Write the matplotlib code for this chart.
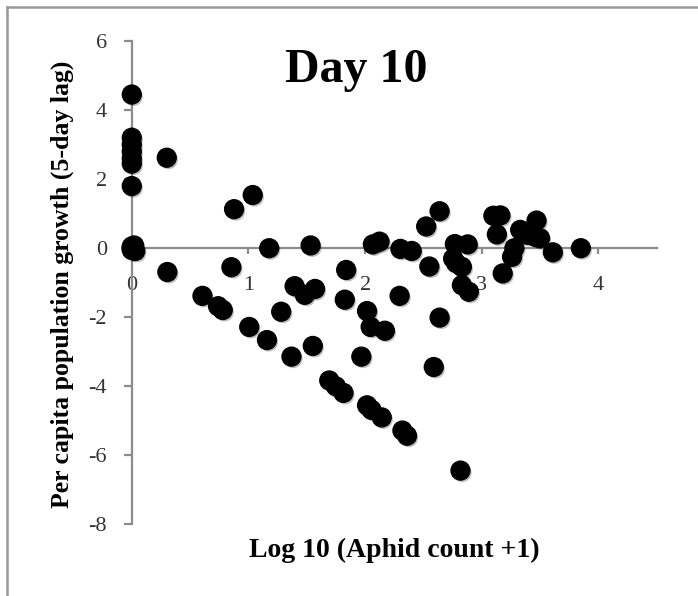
import matplotlib
matplotlib.use("Agg")
import matplotlib.pyplot as plt
import matplotlib.patheffects as pe
from matplotlib.lines import Line2D

# log10(aphid count + 1) vs per capita growth
log_count = [0, 0, 0, 0, 0, 0, 0, 0, 0, 0, 0, 0.03, 0.02, 0.30,
             0.305, 0.606, 0.74, 0.78, 0.854, 0.877, 1.037, 1.007, 1.159, 1.178,
             1.281, 1.369, 1.396, 1.483, 1.571, 1.533, 1.552, 1.693, 1.75, 1.815,
             1.838, 1.826, 1.968, 2.017, 2.017, 2.055, 2.048, 2.143, 2.17, 2.067,
             2.124, 2.296, 2.303, 2.40, 2.32, 2.36, 2.524, 2.639, 2.551, 2.639,
             2.589, 2.77, 2.88, 2.755, 2.78, 2.83, 2.83, 2.89, 2.818, 3.10,
             3.16, 3.13, 3.18, 3.26, 3.28, 3.33, 3.39, 3.47, 3.46, 3.50,
             3.61, 3.85]
growth = [4.45, 3.2, 3.0, 2.8, 2.6, 2.45, 1.8, 0.05, 0.0, -0.05, 0.0, -0.08, 0.08, 2.62,
          -0.69, -1.38, -1.68, -1.79, -0.55, 1.13, 1.54, -2.28, -2.66, 0.0,
          -1.84, -3.14, -1.10, -1.35, -1.18, 0.08, -2.83, -3.83, -4.0, -4.19,
          -0.63, -1.49, -3.14, -1.82, -4.55, -4.68, -2.28, -4.90, -2.39, 0.11,
          0.19, -1.38, -0.02, -0.08, -5.28, -5.43, 0.63, 1.07, -0.53, -2.01,
          -3.44, 0.12, 0.11, -0.30, -0.43, -0.54, -1.07, -1.26, -6.44, 0.94,
          0.95, 0.40, -0.73, -0.25, 0.0, 0.53, 0.39, 0.80, 0.33, 0.29,
          -0.12, 0.0]

xticks = [0, 1, 2, 3, 4]
yticks = [-8, -6, -4, -2, 0, 2, 4, 6]

serif = ["Liberation Serif", "DejaVu Serif"]
axis_grey = "#8c8c8c"

fig = plt.figure(figsize=(6.98, 5.96), dpi=100)
ax = fig.add_axes([0.1888, 0.12, 0.752, 0.8112])

ax.spines["top"].set_visible(False)
ax.spines["right"].set_visible(False)
ax.spines["bottom"].set_position(("data", 0))
for side in ["left", "bottom"]:
    ax.spines[side].set_color(axis_grey)
    ax.spines[side].set_linewidth(1.6)

ax.scatter(log_count, growth, s=185, color="black", zorder=3, clip_on=False,
           path_effects=[pe.SimplePatchShadow(offset=(1.2, -1.5), shadow_rgbFace="black", alpha=0.25),
                         pe.Normal()])

ax.set_xlim(0, 4.5)
ax.set_ylim(-8, 6)
ax.set_xticks(xticks)
ax.set_yticks(yticks)
ax.set_xticklabels([str(t) for t in xticks], fontfamily=serif, fontsize=16, color="#333333")
ax.set_yticklabels([str(t) for t in yticks], fontfamily=serif, fontsize=16, color="#333333")
ax.tick_params(axis="y", direction="out", length=6, width=1.6, color=axis_grey, pad=12)
ax.tick_params(axis="x", direction="out", length=4, width=1.6, color=axis_grey, pad=16)

fig.text(0.51, 0.863, "Day 10", ha="center", va="baseline",
         fontfamily=serif, fontweight="bold", fontsize=34.5)
fig.text(0.565, 0.066, "Log 10 (Aphid count +1)", ha="center", va="baseline",
         fontfamily=serif, fontweight="bold", fontsize=20)
fig.text(0.089, 0.5235, "Per capita population growth (5-day lag)", ha="center", va="center",
         rotation=90, fontfamily=serif, fontweight="bold", fontsize=18.5)

# chart frame, cut off at right and bottom like the reference
frame_grey = "#999999"
fig.add_artist(Line2D([0.0105, 0.0105], [0.0, 0.988], color=frame_grey, lw=1.8, transform=fig.transFigure))
fig.add_artist(Line2D([0.0105, 1.0], [0.988, 0.988], color=frame_grey, lw=1.8, transform=fig.transFigure))

fig.savefig("out.png", dpi=100)
